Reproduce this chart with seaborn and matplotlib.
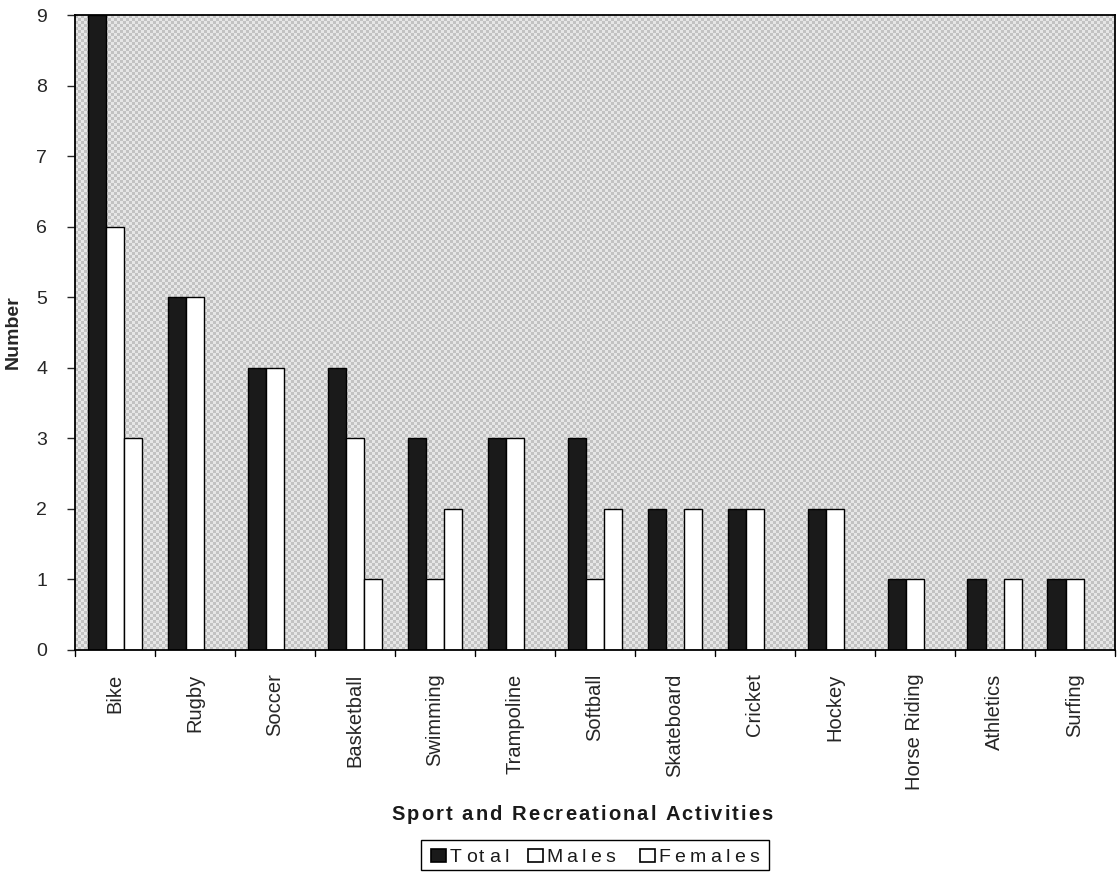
import matplotlib
matplotlib.use("Agg")
import matplotlib.pyplot as plt
import seaborn as sns
import pandas as pd
import numpy as np
from matplotlib.patches import Rectangle

activities = ["Bike", "Rugby", "Soccer", "Basketball", "Swimming", "Trampoline",
              "Softball", "Skateboard", "Cricket", "Hockey", "Horse Riding",
              "Athletics", "Surfing"]
total = [9, 5, 4, 4, 3, 3, 3, 2, 2, 2, 1, 1, 1]
males = [6, 5, 4, 3, 1, 3, 1, 0, 2, 2, 1, 0, 1]
females = [3, 0, 0, 1, 2, 0, 2, 2, 0, 0, 0, 1, 0]
series = ["Total", "Males", "Females"]
yticks = list(range(0, 10))

df = pd.DataFrame({
    "Activity": activities * 3,
    "Group": [s for s in series for _ in activities],
    "Number": total + males + females,
})

sns.set_theme(style="white")
plt.rcParams["font.family"] = ["Liberation Sans", "DejaVu Sans"]

W, H = 1118, 872
fig = plt.figure(figsize=(W / 100, H / 100), dpi=100)
ax = fig.add_axes([0.067, 0.2546, 0.930, 0.728])

palette = {"Total": "#1a1a1a", "Males": "white", "Females": "white"}
sns.barplot(data=df, x="Activity", y="Number", hue="Group", order=activities,
            hue_order=series, palette=palette, width=0.68, edgecolor="black",
            linewidth=1.0, saturation=1, legend=False, ax=ax)

# stippled plot-area fill
n_rows, n_cols = 212, 347
checker = (np.indices((n_rows, n_cols)).sum(axis=0) % 2).astype(float)
ax.imshow(checker, cmap=matplotlib.colors.ListedColormap(["#c2c2c2", "#e6e6e6"]),
          extent=(-0.5, len(activities) - 0.5, 0, 9), aspect="auto",
          interpolation="nearest", zorder=0)

ax.set_ylim(0, 9)
ax.set_xlim(-0.5, len(activities) - 0.5)
ax.set_yticks(yticks)
ax.set_yticklabels([str(v) for v in yticks], fontsize=14)
ax.set_xticks(np.arange(len(activities)))
ax.set_xticklabels(activities, rotation=90, fontsize=14.5)
ax.tick_params(axis="y", left=True, direction="out", length=6, width=1, pad=14)
ax.tick_params(axis="x", bottom=False, pad=11)
# category boundary ticks on the x axis
for b in np.arange(-0.5, len(activities) + 0.5, 1.0):
    ax.plot([b, b], [0, -0.09], color="black", lw=1, clip_on=False)

for s in ax.spines.values():
    s.set_color("black")
    s.set_linewidth(1.3)
    s.set_zorder(5)

ax.set_xlabel("")
ax.set_ylabel("Number", fontsize=14, fontweight="bold", labelpad=10)

renderer = fig.canvas.get_renderer()


def text_width(s, **kw):
    """Advance width in pixels of a string, including trailing spaces."""
    if not s:
        return 0.0
    a = fig.text(0, 0, s + "|", **kw)
    b = fig.text(0, 0, "|", **kw)
    w = a.get_window_extent(renderer).width - b.get_window_extent(renderer).width
    a.remove()
    b.remove()
    return w


def tracked_text(s, x_px, y_px, tracking, align="left", **kw):
    """Draw a letter-spaced string; x_px/y_px in image pixels (y from top, baseline)."""
    full = text_width(s, **kw) + tracking * (len(s) - 1)
    x0 = x_px - full / 2 if align == "center" else x_px
    for i, ch in enumerate(s):
        if ch == " ":
            continue
        x = x0 + text_width(s[:i], **kw) + tracking * i
        fig.text(x / W, 1 - y_px / H, ch, ha="left", va="baseline", **kw)
    return x0 + full


# x-axis title, letter-spaced
tracked_text("Sport and Recreational Activities", 582, 820, 2.1, align="center",
             fontsize=14.5, fontweight="bold", color="#1a1a1a")

# legend box
fig.add_artist(Rectangle((421 / W, 1 - 870 / H), (769 - 421) / W, 30 / H,
                         transform=fig.transFigure, facecolor="white",
                         edgecolor="black", linewidth=1.0))
legend_items = [("Total", 431, 450), ("Males", 528, 546), ("Females", 640, 658)]
for name, sq_x, txt_x in legend_items:
    fig.add_artist(Rectangle((sq_x / W, 1 - 862 / H), 15 / W, 13 / H,
                             transform=fig.transFigure,
                             facecolor=palette[name], edgecolor="black",
                             linewidth=1.2))
    tracked_text(name, txt_x, 862, 4.3, fontsize=14, color="#1a1a1a")

fig.savefig("out.png", dpi=100, facecolor="white")
